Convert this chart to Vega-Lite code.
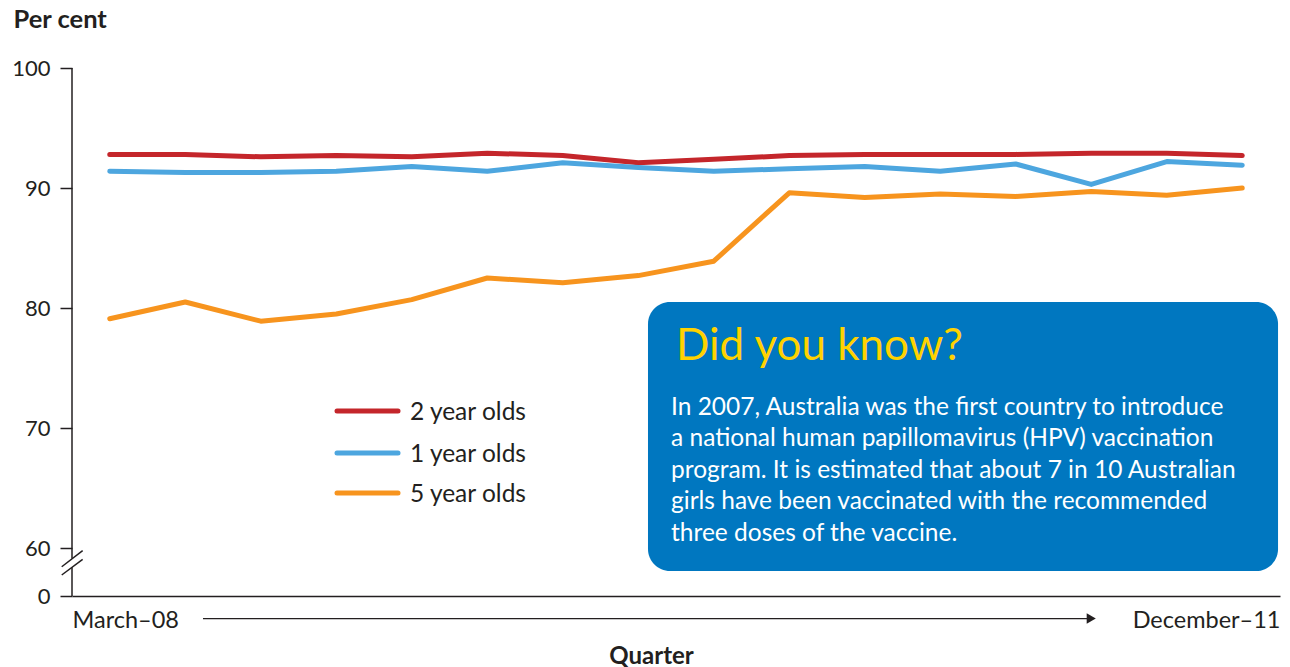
{
  "$schema": "https://vega.github.io/schema/vega-lite/v6.json",
  "width": 1208,
  "height": 528,
  "autosize": {"type": "none"},
  "padding": {"left": 72, "top": 68, "right": 10, "bottom": 71},
  "background": "white",
  "config": {
    "view": {"stroke": null},
    "font": "Lato",
    "axis": {"labelFont": "Lato", "titleFont": "Lato", "labelColor": "#231F20", "titleColor": "#231F20", "grid": false}
  },
  "datasets": {
    "coverage": [
      {"q": 1, "quarter": "March-08", "group": "2 year olds", "pct": 92.8},
      {"q": 2, "quarter": "June-08", "group": "2 year olds", "pct": 92.8},
      {"q": 3, "quarter": "September-08", "group": "2 year olds", "pct": 92.6},
      {"q": 4, "quarter": "December-08", "group": "2 year olds", "pct": 92.7},
      {"q": 5, "quarter": "March-09", "group": "2 year olds", "pct": 92.6},
      {"q": 6, "quarter": "June-09", "group": "2 year olds", "pct": 92.9},
      {"q": 7, "quarter": "September-09", "group": "2 year olds", "pct": 92.7},
      {"q": 8, "quarter": "December-09", "group": "2 year olds", "pct": 92.1},
      {"q": 9, "quarter": "March-10", "group": "2 year olds", "pct": 92.4},
      {"q": 10, "quarter": "June-10", "group": "2 year olds", "pct": 92.7},
      {"q": 11, "quarter": "September-10", "group": "2 year olds", "pct": 92.8},
      {"q": 12, "quarter": "December-10", "group": "2 year olds", "pct": 92.8},
      {"q": 13, "quarter": "March-11", "group": "2 year olds", "pct": 92.8},
      {"q": 14, "quarter": "June-11", "group": "2 year olds", "pct": 92.9},
      {"q": 15, "quarter": "September-11", "group": "2 year olds", "pct": 92.9},
      {"q": 16, "quarter": "December-11", "group": "2 year olds", "pct": 92.7},
      {"q": 1, "quarter": "March-08", "group": "1 year olds", "pct": 91.4},
      {"q": 2, "quarter": "June-08", "group": "1 year olds", "pct": 91.3},
      {"q": 3, "quarter": "September-08", "group": "1 year olds", "pct": 91.3},
      {"q": 4, "quarter": "December-08", "group": "1 year olds", "pct": 91.4},
      {"q": 5, "quarter": "March-09", "group": "1 year olds", "pct": 91.8},
      {"q": 6, "quarter": "June-09", "group": "1 year olds", "pct": 91.4},
      {"q": 7, "quarter": "September-09", "group": "1 year olds", "pct": 92.1},
      {"q": 8, "quarter": "December-09", "group": "1 year olds", "pct": 91.7},
      {"q": 9, "quarter": "March-10", "group": "1 year olds", "pct": 91.4},
      {"q": 10, "quarter": "June-10", "group": "1 year olds", "pct": 91.6},
      {"q": 11, "quarter": "September-10", "group": "1 year olds", "pct": 91.8},
      {"q": 12, "quarter": "December-10", "group": "1 year olds", "pct": 91.4},
      {"q": 13, "quarter": "March-11", "group": "1 year olds", "pct": 92.0},
      {"q": 14, "quarter": "June-11", "group": "1 year olds", "pct": 90.3},
      {"q": 15, "quarter": "September-11", "group": "1 year olds", "pct": 92.2},
      {"q": 16, "quarter": "December-11", "group": "1 year olds", "pct": 91.9},
      {"q": 1, "quarter": "March-08", "group": "5 year olds", "pct": 79.1},
      {"q": 2, "quarter": "June-08", "group": "5 year olds", "pct": 80.5},
      {"q": 3, "quarter": "September-08", "group": "5 year olds", "pct": 78.9},
      {"q": 4, "quarter": "December-08", "group": "5 year olds", "pct": 79.5},
      {"q": 5, "quarter": "March-09", "group": "5 year olds", "pct": 80.7},
      {"q": 6, "quarter": "June-09", "group": "5 year olds", "pct": 82.5},
      {"q": 7, "quarter": "September-09", "group": "5 year olds", "pct": 82.1},
      {"q": 8, "quarter": "December-09", "group": "5 year olds", "pct": 82.7},
      {"q": 9, "quarter": "March-10", "group": "5 year olds", "pct": 83.9},
      {"q": 10, "quarter": "June-10", "group": "5 year olds", "pct": 89.6},
      {"q": 11, "quarter": "September-10", "group": "5 year olds", "pct": 89.2},
      {"q": 12, "quarter": "December-10", "group": "5 year olds", "pct": 89.5},
      {"q": 13, "quarter": "March-11", "group": "5 year olds", "pct": 89.3},
      {"q": 14, "quarter": "June-11", "group": "5 year olds", "pct": 89.7},
      {"q": 15, "quarter": "September-11", "group": "5 year olds", "pct": 89.4},
      {"q": 16, "quarter": "December-11", "group": "5 year olds", "pct": 90.0}
    ],
    "yaxis": [
      {"x": 0.5, "y": 56, "y2": 58.39},
      {"x": 0.5, "y": 59.12, "y2": 100}
    ],
    "breaks": [
      {"x": 0.364, "x2": 0.641, "y": 58.44, "y2": 59.78},
      {"x": 0.364, "x2": 0.641, "y": 57.75, "y2": 59.06}
    ],
    "arrow": [{"x": 2.235, "x2": 13.95, "y": 54.12}],
    "arrowhead": [{"x": 14.0, "y": 54.12}],
    "legend": [
      {"group": "2 year olds", "x": 4.01, "x2": 4.818, "y": 71.42, "lx": 4.977},
      {"group": "1 year olds", "x": 4.01, "x2": 4.818, "y": 67.92, "lx": 4.977},
      {"group": "5 year olds", "x": 4.01, "x2": 4.818, "y": 64.58, "lx": 4.977}
    ],
    "box": [{"x": 8.129, "x2": 16.474, "y": 58.08, "y2": 80.5}],
    "boxtitle": [{"x": 8.5, "y": 75.67, "text": "Did you know?"}],
    "boxbody": [
      {"x": 8.434, "y": 71.67, "text": "In 2007, Australia was the first country to introduce"},
      {"x": 8.434, "y": 69.08, "text": "a national human papillomavirus (HPV) vaccination"},
      {"x": 8.434, "y": 66.42, "text": "program. It is estimated that about 7 in 10 Australian"},
      {"x": 8.434, "y": 63.83, "text": "girls have been vaccinated with the recommended"},
      {"x": 8.434, "y": 61.17, "text": "three doses of the vaccine."}
    ]
  },
  "layer": [
    {
      "data": {"name": "coverage"},
      "mark": {"type": "line", "strokeWidth": 5, "strokeJoin": "round", "strokeCap": "round"},
      "encoding": {
        "x": {
          "field": "q", "type": "quantitative",
          "scale": {"domain": [0.5, 16.5], "nice": false, "zero": false},
          "axis": {
            "values": [0.5, 16.5],
            "labelExpr": "datum.value < 1 ? 'March–08' : 'December–11'",
            "labelFlush": true,
            "labelAlign": {"expr": "datum.value < 1 ? 'left' : 'right'"},
            "labelOverlap": false,
            "labelFontSize": 23.5,
            "labelPadding": 12,
            "ticks": false,
            "domainColor": "#231F20",
            "domainWidth": 1.5,
            "title": "Quarter",
            "titleFontSize": 24,
            "titleFontWeight": "bold",
            "titleAlign": "center",
            "titleBaseline": "alphabetic",
            "titleX": 579,
            "titleY": 67
          }
        },
        "y": {
          "field": "pct", "type": "quantitative",
          "scale": {"domain": [56, 100], "nice": false, "zero": false},
          "axis": {
            "values": [56, 60, 70, 80, 90, 100],
            "labelExpr": "datum.value == 56 ? '0' : datum.label",
            "labelFontSize": 22,
            "labelPadding": 10,
            "tickSize": 12,
            "tickColor": "#231F20",
            "tickWidth": 1.5,
            "domain": false,
            "title": "Per cent",
            "titleAngle": 0,
            "titleAlign": "left",
            "titleBaseline": "alphabetic",
            "titleFontSize": 25.5,
            "titleFontWeight": "bold",
            "titleX": -59,
            "titleY": -41
          }
        },
        "color": {
          "field": "group", "type": "nominal",
          "scale": {"domain": ["2 year olds", "1 year olds", "5 year olds"], "range": ["#C4262B", "#4DA6DF", "#F7941E"]},
          "legend": null
        },
        "order": {"field": "q"}
      }
    },
    {
      "data": {"name": "yaxis"},
      "mark": {"type": "rule", "color": "#231F20", "strokeWidth": 1.5},
      "encoding": {
        "x": {"field": "x", "type": "quantitative"},
        "y": {"field": "y", "type": "quantitative"},
        "y2": {"field": "y2"}
      }
    },
    {
      "data": {"name": "breaks"},
      "mark": {"type": "rule", "color": "#231F20", "strokeWidth": 1.5},
      "encoding": {
        "x": {"field": "x", "type": "quantitative"},
        "x2": {"field": "x2"},
        "y": {"field": "y", "type": "quantitative"},
        "y2": {"field": "y2"}
      }
    },
    {
      "data": {"name": "arrow"},
      "mark": {"type": "rule", "color": "#231F20", "strokeWidth": 1.2},
      "encoding": {
        "x": {"field": "x", "type": "quantitative"},
        "x2": {"field": "x2"},
        "y": {"field": "y", "type": "quantitative"}
      }
    },
    {
      "data": {"name": "arrowhead"},
      "mark": {"type": "point", "shape": "triangle-right", "filled": true, "color": "#231F20", "size": 110, "opacity": 1},
      "encoding": {
        "x": {"field": "x", "type": "quantitative"},
        "y": {"field": "y", "type": "quantitative"}
      }
    },
    {
      "data": {"name": "legend"},
      "mark": {"type": "rule", "strokeWidth": 5, "strokeCap": "round"},
      "encoding": {
        "x": {"field": "x", "type": "quantitative"},
        "x2": {"field": "x2"},
        "y": {"field": "y", "type": "quantitative"},
        "color": {"field": "group", "type": "nominal", "legend": null}
      }
    },
    {
      "data": {"name": "legend"},
      "mark": {"type": "text", "align": "left", "baseline": "middle", "fontSize": 24.5, "color": "#231F20", "dy": 2},
      "encoding": {
        "x": {"field": "lx", "type": "quantitative"},
        "y": {"field": "y", "type": "quantitative"},
        "text": {"field": "group"}
      }
    },
    {
      "data": {"name": "box"},
      "mark": {"type": "rect", "color": "#0077C0", "cornerRadius": 22},
      "encoding": {
        "x": {"field": "x", "type": "quantitative"},
        "x2": {"field": "x2"},
        "y": {"field": "y", "type": "quantitative"},
        "y2": {"field": "y2"}
      }
    },
    {
      "data": {"name": "boxtitle"},
      "mark": {"type": "text", "align": "left", "baseline": "alphabetic", "fontSize": 44, "color": "#FFD200"},
      "encoding": {
        "x": {"field": "x", "type": "quantitative"},
        "y": {"field": "y", "type": "quantitative"},
        "text": {"field": "text"}
      }
    },
    {
      "data": {"name": "boxbody"},
      "mark": {"type": "text", "align": "left", "baseline": "middle", "fontSize": 24.5, "color": "white"},
      "encoding": {
        "x": {"field": "x", "type": "quantitative"},
        "y": {"field": "y", "type": "quantitative"},
        "text": {"field": "text"}
      }
    }
  ]
}
